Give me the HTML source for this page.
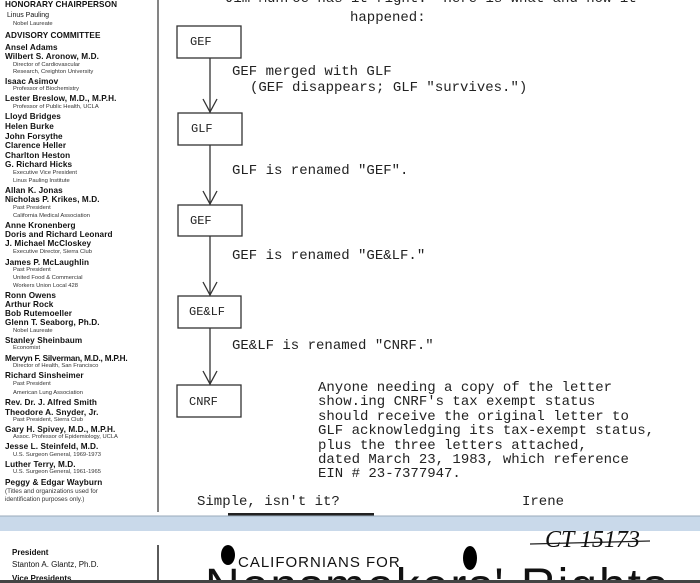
<!DOCTYPE html>
<html style="width:700px;height:583px;overflow:hidden"><head><meta charset="utf-8"><style>
*{margin:0;padding:0}
body{width:700px;height:583px;overflow:hidden;background:#fff;position:relative;font-family:"Liberation Sans",sans-serif;color:#111}
.l{position:absolute;left:5px;white-space:nowrap;line-height:1}
.b{font-weight:bold;font-size:8.2px;letter-spacing:0.1px}
.s{font-size:5.8px;left:13px;color:#333}
.m{position:absolute;font-family:"Liberation Mono",monospace;font-size:14px;white-space:pre;line-height:1;color:#222}
</style></head><body>
<div class="l b" style="top:1px">HONORARY CHAIRPERSON</div>
<div class="l" style="top:12px;font-size:7px;left:7px">Linus Pauling</div>
<div class="l s" style="top:22px">Nobel Laureate</div>
<div class="l b" style="top:32px">ADVISORY COMMITTEE</div>
<div class="l b" style="top:44px">Ansel Adams</div>
<div class="l b" style="top:53px">Wilbert S. Aronow, M.D.</div>
<div class="l s" style="top:63px">Director of Cardiovascular</div>
<div class="l s" style="top:70px">Research, Creighton University</div>
<div class="l b" style="top:78px">Isaac Asimov</div>
<div class="l s" style="top:87px">Professor of Biochemistry</div>
<div class="l b" style="top:95px">Lester Breslow, M.D., M.P.H.</div>
<div class="l s" style="top:105px">Professor of Public Health, UCLA</div>
<div class="l b" style="top:113px">Lloyd Bridges</div>
<div class="l b" style="top:123px">Helen Burke</div>
<div class="l b" style="top:133px">John Forsythe</div>
<div class="l b" style="top:142px">Clarence Heller</div>
<div class="l b" style="top:152px">Charlton Heston</div>
<div class="l b" style="top:161px">G. Richard Hicks</div>
<div class="l s" style="top:171px">Executive Vice President</div>
<div class="l s" style="top:179px">Linus Pauling Institute</div>
<div class="l b" style="top:187px">Allan K. Jonas</div>
<div class="l b" style="top:196px">Nicholas P. Krikes, M.D.</div>
<div class="l s" style="top:206px">Past President</div>
<div class="l s" style="top:214px">California Medical Association</div>
<div class="l b" style="top:222px">Anne Kronenberg</div>
<div class="l b" style="top:231px">Doris and Richard Leonard</div>
<div class="l b" style="top:240px">J. Michael McCloskey</div>
<div class="l s" style="top:250px">Executive Director, Sierra Club</div>
<div class="l b" style="top:259px">James P. McLaughlin</div>
<div class="l s" style="top:268px">Past President</div>
<div class="l s" style="top:276px">United Food &amp; Commercial</div>
<div class="l s" style="top:284px">Workers Union Local 428</div>
<div class="l b" style="top:292px">Ronn Owens</div>
<div class="l b" style="top:301px">Arthur Rock</div>
<div class="l b" style="top:310px">Bob Rutemoeller</div>
<div class="l b" style="top:319px">Glenn T. Seaborg, Ph.D.</div>
<div class="l s" style="top:329px">Nobel Laureate</div>
<div class="l b" style="top:337px">Stanley Sheinbaum</div>
<div class="l s" style="top:346px">Economist</div>
<div class="l b" style="top:355px;letter-spacing:-0.2px">Mervyn F. Silverman, M.D., M.P.H.</div>
<div class="l s" style="top:364px">Director of Health, San Francisco</div>
<div class="l b" style="top:372px">Richard Sinsheimer</div>
<div class="l s" style="top:382px">Past President</div>
<div class="l s" style="top:391px">American Lung Association</div>
<div class="l b" style="top:399px">Rev. Dr. J. Alfred Smith</div>
<div class="l b" style="top:409px">Theodore A. Snyder, Jr.</div>
<div class="l s" style="top:418px">Past President, Sierra Club</div>
<div class="l b" style="top:426px">Gary H. Spivey, M.D., M.P.H.</div>
<div class="l s" style="top:435px">Assoc. Professor of Epidemiology, UCLA</div>
<div class="l b" style="top:443px">Jesse L. Steinfeld, M.D.</div>
<div class="l s" style="top:453px">U.S. Surgeon General, 1969-1973</div>
<div class="l b" style="top:461px">Luther Terry, M.D.</div>
<div class="l s" style="top:470px">U.S. Surgeon General, 1961-1965</div>
<div class="l b" style="top:479px">Peggy &amp; Edgar Wayburn</div>
<div class="l" style="top:489px;font-size:6.3px;left:5px;color:#333">(Titles and organizations used for</div>
<div class="l" style="top:497px;font-size:6.3px;left:5px;color:#333">identification purposes only.)</div>

<svg width="700" height="583" style="position:absolute;left:0;top:0" xmlns="http://www.w3.org/2000/svg">
<line x1="158" y1="0" x2="158" y2="512" stroke="#333" stroke-width="1.2"/>
<g fill="none" stroke="#333" stroke-width="1.3">
<rect x="177" y="26" width="64" height="32"/>
<rect x="178" y="113" width="64" height="32"/>
<rect x="178" y="205" width="64" height="31"/>
<rect x="178" y="296" width="63" height="32"/>
<rect x="177" y="385" width="64" height="32"/>
<line x1="210" y1="58" x2="210" y2="113"/>
<line x1="210" y1="145" x2="210" y2="205"/>
<line x1="210" y1="236" x2="210" y2="296"/>
<line x1="210" y1="328" x2="210" y2="385"/>
<polyline points="203,99 210,112 217,99"/>
<polyline points="203,191 210,204 217,191"/>
<polyline points="203,282 210,295 217,282"/>
<polyline points="203,371 210,384 217,371"/>
</g>
<rect x="0" y="516" width="700" height="15" fill="#c9d9ea"/>
<line x1="0" y1="516" x2="700" y2="516" stroke="#9ab" stroke-width="1"/>
<rect x="228" y="513" width="146" height="2.5" fill="#222"/>
<line x1="158" y1="545" x2="158" y2="583" stroke="#222" stroke-width="1.5"/>
<ellipse cx="228" cy="555" rx="7" ry="10" fill="#000"/>
<ellipse cx="470" cy="558" rx="7" ry="12" fill="#000"/>
<line x1="530" y1="544" x2="650" y2="541" stroke="#222" stroke-width="1.2"/>
<text x="12" y="581" font-family="Liberation Sans, sans-serif" font-size="8" font-weight="bold" fill="#111">Vice Presidents</text>
<text x="205" y="602" font-family="Liberation Sans, sans-serif" font-size="48" letter-spacing="2" fill="#111">Nonsmokers' Rights</text>
<rect x="0" y="580" width="700" height="3" fill="#444"/>
</svg>

<div class="m" style="left:225px;top:-8px">Jim Munroe has it right.  Here is what and how it</div>
<div class="m" style="left:350px;top:11px">happened:</div>
<div class="m" style="left:190px;top:36px;font-size:12px">GEF</div>
<div class="m" style="left:191px;top:123px;font-size:12px">GLF</div>
<div class="m" style="left:190px;top:215px;font-size:12px">GEF</div>
<div class="m" style="left:189px;top:306px;font-size:12px">GE&amp;LF</div>
<div class="m" style="left:189px;top:396px;font-size:12px">CNRF</div>
<div class="m" style="left:232px;top:65px">GEF merged with GLF</div>
<div class="m" style="left:250px;top:81px">(GEF disappears; GLF "survives.")</div>
<div class="m" style="left:232px;top:164px">GLF is renamed "GEF".</div>
<div class="m" style="left:232px;top:249px">GEF is renamed "GE&amp;LF."</div>
<div class="m" style="left:232px;top:339px">GE&amp;LF is renamed "CNRF."</div>
<div class="m" style="left:318px;top:381px;line-height:14.4px">Anyone needing a copy of the letter
show.ing CNRF's tax exempt status
should receive the original letter to
GLF acknowledging its tax-exempt status,
plus the three letters attached,
dated March 23, 1983, which reference
EIN # 23-7377947.</div>
<div class="m" style="left:197px;top:495px">Simple, isn't it?</div>
<div class="m" style="left:522px;top:495px">Irene</div>

<div class="l" style="top:549px;left:12px;font-size:8px;font-weight:bold">President</div>
<div class="l" style="top:561px;left:12px;font-size:8px">Stanton A. Glantz, Ph.D.</div>
<div class="l" style="top:555px;left:238px;font-size:15px;letter-spacing:1px">CALIFORNIANS FOR</div>
<div class="l" style="top:528px;left:545px;font-size:24px;font-style:italic;font-family:'Liberation Serif',serif">CT 15173</div>
</body></html>
